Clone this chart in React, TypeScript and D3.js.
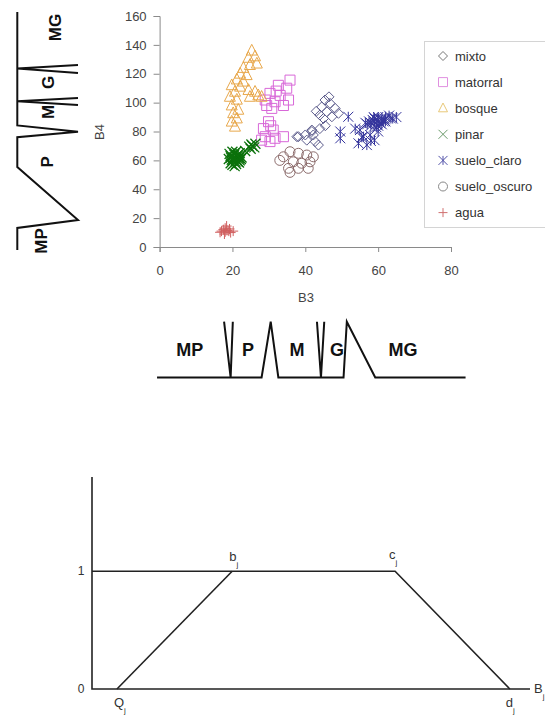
import * as d3 from 'd3';
import React, { useRef, useEffect } from 'react';

// scatter: B3 (x) vs B4 (y)
const b3Ticks = [0, 20, 40, 60, 80];
const b4Ticks = [0, 20, 40, 60, 80, 100, 120, 140, 160];

const mixto = [[45.4,101.8],[46.8,99.5],[44.5,97],[48.2,96],[45.9,93.7],[49.1,92.6],[44,91.4],[47.3,90.2],[45,89],[46.5,104],[43,94],
  [44,82],[41.8,81],[42.2,77.6],[40,77.6],[37.7,76.4],[40.4,74],[42.7,73],[43.6,70.6],[38.1,76.4],[41.8,80],[45.5,84]];
const matorral = [[35.8,115.6],[34.9,110],[32.6,112],[33.1,105],[35.4,101.8],[30.3,106.4],[29,101.8],[31.7,100.6],[30.8,96],[29.4,98],[34,98],[32,108],
  [29.9,86.8],[28.5,82],[31.2,81],[29,76.4],[31.7,75.3],[34,76.4],[30.3,73],[28,74],[30.5,84]];
const bosque = [[25.3,136],[26.2,132],[24.4,131],[26.7,127],[24.8,126],[23,124],[22.1,120],[23.9,119],[21.2,116],[23,114.5],[19.8,112],[22.1,111],[20.7,107.5],
  [24.4,108.7],[26.2,107.5],[27.1,105],[24.8,104],[19.3,104],[21.2,102],[19.8,98],[21.6,95],[20.2,92.6],[21.2,89],[19.8,86.8],[20.7,83.3],[28,104]];
const pinar = [[19.5,58],[20,60],[21,61],[22,63],[20.5,64],[21.5,59],[19.5,63],[22,60],[19,61],[20,66],[21,66],[22,65],[22.5,62],[20,57],[21,57.5],[20.5,62],
  [21.8,61.5],[19.8,60.5],[21.5,64],[19.2,64.5],[20.6,56],[21.4,63],[20.8,59],[21.8,58.5],[20.2,61.5],[21.2,60.2],[20.6,65],[19.6,62],[22.3,61],
  [25,68],[25.5,70],[26.3,71.5],[25.2,71],[26,69],[24.6,69.5],[23.5,66.5]];
const sueloClaro = [[57,85],[58,86],[59,87],[60,88],[61,89],[62,90],[58.5,88],[59.5,85],[60.5,86],[61.5,87],[58,84],[60,90],[62,87],[63,91],[57.5,87],[59,89],
  [61,85],[60,84],[58.8,90],[61.8,88.5],[56.5,86],[63.5,89],[65,90],[64,89],[59.5,83],
  [51.8,90.2],[49.6,80],[49.6,75.3],[55,81],[54.6,71.8],[56.9,70.6],[57.8,77.6],[60,80],[56,76.4],[53.7,82],[59,74],[55.5,76],[58,73.5]];
const sueloOscuro = [[34,62.5],[35.8,66],[38.1,64.9],[40.4,63.7],[42.2,62.5],[36.7,59],[39,58],[41.3,59],[35.4,54.5],[40.8,54.5],[38.1,54.5],[35.8,51.7],[33,60]];
const agua = [[17,11],[17.5,12],[18,10.5],[18.5,11.5],[19,11],[19.5,10],[18,13],[17.8,9],[19.2,12.5],[20.2,11],[16.6,10.2],[18.4,14.5]];

const seriesNames = ['mixto', 'matorral', 'bosque', 'pinar', 'suelo_claro', 'suelo_oscuro', 'agua'];
const seriesData = [mixto, matorral, bosque, pinar, sueloClaro, sueloOscuro, agua];
const seriesMarkers = ['diamond', 'square', 'triangle', 'x', 'star', 'circle', 'plus'];
const seriesColors = ['#5c5c8c', '#d868d8', '#e8a84c', '#0c720c', '#34349c', '#8c6c6c', '#d06060'];
const legendColors = ['#777777', '#e090e0', '#e8c878', '#6a9a6a', '#5050a8', '#888888', '#d07070'];

// fuzzy label sets along B3 (bottom) and B4 (left): [value, membership]
// profile = baseline with the peaked transitions, crossings = V shapes touching the baseline
const b3Profile = [[-0.7, 0], [28, 0], [30.5, 1], [32.6, 0], [50.5, 0], [51.4, 1], [59.2, 0], [84, 0]];
const b3Crossings = [
  [[17.7, 1], [19.5, 0], [20.1, 1]],
  [[43.2, 1], [44.3, 0], [45.2, 1]],
];
const b3Labels = ['MP', 'P', 'M', 'G', 'MG'];
const b3LabelPos = [8.3, 24.3, 37.7, 48.7, 66.8];

const b4Profile = [[-2, 0], [13.2, 0], [18.7, 1], [55.4, 0], [76, 0], [79.8, 1], [84.2, 0], [162.7, 0]];
const b4Crossings = [
  [[98.3, 1], [101, 0], [103.2, 1]],
  [[120.5, 1], [123.6, 0], [126, 1]],
];
const b4Labels = ['MP', 'P', 'M', 'G', 'MG'];
const b4LabelPos = [4.2, 59, 93.5, 114, 152];
const b4LabelMemb = [0.39, 0.49, 0.5, 0.5, 0.62];

// trapezoidal membership function
const trapA = 5.7, trapB = 32, trapC = 69.2, trapD = 95.4;

function markerPath(kind: string, r: number) {
  switch (kind) {
    case 'diamond': return `M0,${-r}L${r},0L0,${r}L${-r},0Z`;
    case 'square': return `M${-r},${-r}h${2 * r}v${2 * r}h${-2 * r}Z`;
    case 'triangle': return `M0,${-r * 1.15}L${r},${r * 0.8}L${-r},${r * 0.8}Z`;
    case 'x': return `M${-r},${-r}L${r},${r}M${-r},${r}L${r},${-r}`;
    case 'star': return `M${-r},${-r}L${r},${r}M${-r},${r}L${r},${-r}M0,${-r}V${r}`;
    case 'plus': return `M${-r},0H${r}M0,${-r}V${r}`;
    default: return `M${r},0A${r},${r} 0 1,1 ${-r},0A${r},${r} 0 1,1 ${r},0`;
  }
}

function App() {
  const svgRef = useRef(null);

  useEffect(() => {
    const svg = d3.select(svgRef.current);
    svg.selectAll('*').remove();
    const font = 'Liberation Sans, Arial, sans-serif';

    const x = d3.scaleLinear().domain([0, 80]).range([159.6, 451]);
    const y = d3.scaleLinear().domain([0, 160]).range([247, 16]);

    // axes
    const ax = svg.append('g').attr('transform', 'translate(0,247)')
      .call(d3.axisBottom(x).tickValues(b3Ticks).tickSize(5).tickPadding(14));
    const ay = svg.append('g').attr('transform', 'translate(159.6,0)')
      .call(d3.axisLeft(y).tickValues(b4Ticks).tickSize(6).tickPadding(7));
    [ax, ay].forEach((g) => {
      g.select('.domain').attr('stroke', '#8a8a8a');
      g.selectAll('.tick line').attr('stroke', '#8a8a8a');
      g.selectAll('.tick text').attr('fill', '#444').attr('font-size', 13).attr('font-family', font);
    });

    svg.append('text').attr('x', 306).attr('y', 302).attr('text-anchor', 'middle')
      .attr('font-size', 13).attr('font-family', font).attr('fill', '#444').text('B3');
    svg.append('text').attr('transform', 'translate(104,132) rotate(-90)').attr('text-anchor', 'middle')
      .attr('font-size', 13).attr('font-family', font).attr('fill', '#444').text('B4');

    // points
    seriesData.forEach((data, i) => {
      svg.append('g').selectAll('path').data(data).enter().append('path')
        .attr('transform', (d) => `translate(${x(d[0])},${y(d[1])})`)
        .attr('d', markerPath(seriesMarkers[i], seriesMarkers[i] === 'triangle' ? 5.5 : 5))
        .attr('fill', 'none')
        .attr('stroke', seriesColors[i])
        .attr('stroke-width', seriesMarkers[i] === 'x' ? 1.3 : 1);
    });

    // legend
    svg.append('rect').attr('x', 424.5).attr('y', 41.5).attr('width', 130).attr('height', 186)
      .attr('fill', 'white').attr('stroke', '#d4d4d4');
    seriesNames.forEach((name, i) => {
      const ly = 56 + i * 26.1;
      svg.append('path').attr('transform', `translate(443,${ly})`)
        .attr('d', markerPath(seriesMarkers[i], 4.5)).attr('fill', 'none')
        .attr('stroke', legendColors[i]).attr('stroke-width', 1);
      svg.append('text').attr('x', 455).attr('y', ly).attr('dy', '0.35em')
        .attr('font-size', 13).attr('font-family', font).attr('fill', '#333').text(name);
    });

    // bottom fuzzy sets (B3)
    const mb = d3.scaleLinear().domain([0, 1]).range([377.5, 321.7]);
    const lineB = d3.line<number[]>().x((d) => x(d[0])).y((d) => mb(d[1]));
    svg.append('path').attr('d', lineB(b3Profile))
      .attr('fill', 'none').attr('stroke', '#111').attr('stroke-width', 2);
    b3Crossings.forEach((t) => {
      svg.append('path').attr('d', lineB(t)).attr('fill', 'none')
        .attr('stroke', '#111').attr('stroke-width', 2);
    });
    b3Labels.forEach((l, i) => {
      svg.append('text').attr('x', x(b3LabelPos[i])).attr('y', mb(0.49)).attr('dy', '0.35em')
        .attr('text-anchor', 'middle').attr('font-size', 18).attr('font-weight', 'bold')
        .attr('font-family', font).attr('fill', '#111').text(l);
    });

    // left fuzzy sets (B4)
    const ml = d3.scaleLinear().domain([0, 1]).range([17.3, 78]);
    const lineL = d3.line<number[]>().x((d) => ml(d[1])).y((d) => y(d[0]));
    svg.append('path').attr('d', lineL(b4Profile))
      .attr('fill', 'none').attr('stroke', '#111').attr('stroke-width', 2);
    b4Crossings.forEach((t) => {
      svg.append('path').attr('d', lineL(t)).attr('fill', 'none')
        .attr('stroke', '#111').attr('stroke-width', 2);
    });
    b4Labels.forEach((l, i) => {
      svg.append('text')
        .attr('transform', `translate(${ml(b4LabelMemb[i])},${y(b4LabelPos[i])}) rotate(-90)`)
        .attr('dy', '0.35em').attr('text-anchor', 'middle').attr('font-size', 17).attr('font-weight', 'bold')
        .attr('font-family', font).attr('fill', '#111').text(l);
    });

    // trapezoid membership function
    const tx = d3.scaleLinear().domain([0, 100]).range([92, 530]);
    const ty = d3.scaleLinear().domain([0, 1.8]).range([689, 477]);
    const lt = d3.line<number[]>().x((d) => tx(d[0])).y((d) => ty(d[1]));
    const stroke = (p: any) => p.attr('fill', 'none').attr('stroke', '#222').attr('stroke-width', 1.6);
    svg.append('path').attr('d', lt([[0, 1.8], [0, 0], [100, 0]])).call(stroke);
    svg.append('path').attr('d', lt([[0, 1], [trapC, 1], [trapD, 0]])).call(stroke);
    svg.append('path').attr('d', lt([[trapA, 0], [trapB, 1]])).call(stroke);

    const tick = (v: number, t: string) =>
      svg.append('text').attr('x', 81).attr('y', ty(v)).attr('dy', '0.35em').attr('text-anchor', 'middle')
        .attr('font-size', 12).attr('font-family', font).attr('fill', '#333').text(t);
    tick(1, '1');
    tick(0, '0');

    const pointLabel = (px: number, py: number, main: string) => {
      const t = svg.append('text').attr('x', px).attr('y', py).attr('font-size', 13)
        .attr('font-family', font).attr('fill', '#333');
      t.append('tspan').text(main);
      t.append('tspan').attr('font-size', 8).attr('dy', 6).attr('fill', '#333').text('j');
    };
    pointLabel(tx(trapB) - 3, ty(1) - 10, 'b');
    pointLabel(tx(trapC) - 6, ty(1) - 12, 'c');
    pointLabel(tx(trapA) - 3, ty(0) + 18, 'Q');
    pointLabel(tx(trapD) - 4, ty(0) + 18, 'd');
    pointLabel(tx(100) + 4, ty(0) + 4, 'B');
  }, []);

  return (
    <svg ref={svgRef} width={545} height={724}
      style={{ position: 'absolute', left: 0, top: 0, background: 'white' }}></svg>
  );
}

export default App;
